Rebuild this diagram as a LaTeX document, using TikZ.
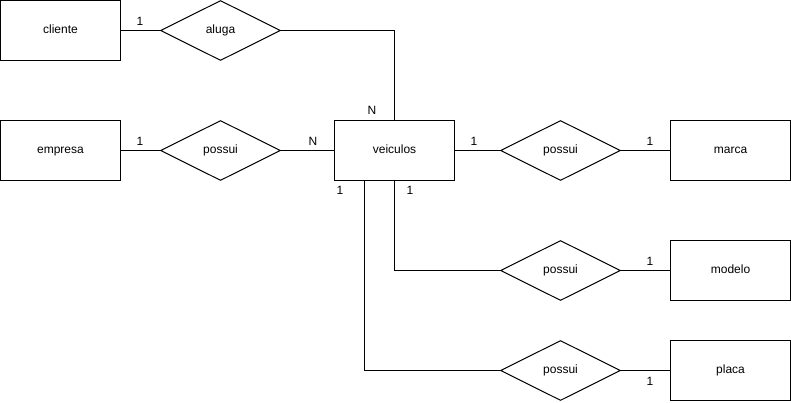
\documentclass[tikz,border=0pt]{standalone}
\usepackage{fontspec}
\setmainfont{Liberation Sans}
\usetikzlibrary{shapes.geometric}
\begin{document}
\begin{tikzpicture}[x=1pt,y=-1pt,
  every node/.style={font=\fontsize{12}{14}\selectfont},
  entity/.style={draw,line width=1pt,minimum width=120pt,minimum height=60pt,inner sep=0pt,text height=8.6pt,text depth=2.6pt},
  rel/.style={draw,diamond,line width=1pt,minimum width=120pt,minimum height=60pt,inner sep=0pt,aspect=2,text height=8.6pt,text depth=2.6pt},
  card/.style={inner sep=0pt},
  conn/.style={line width=1pt}]
\useasboundingbox (0,0) rectangle (791,402);
\node[entity] (cliente) at (60.5,30.5) {cliente};
\node[entity] (empresa) at (60.5,150.5) {empresa};
\node[entity] (veiculos) at (394.5,150.5) {veiculos};
\node[entity] (marca) at (730.5,150.5) {marca};
\node[entity] (modelo) at (730.5,270.5) {modelo};
\node[entity] (placa) at (730.5,370.5) {placa};
\node[rel] (aluga) at (220.5,30.5) {aluga};
\node[rel] (pEmp) at (220.5,150.5) {possui};
\node[rel] (pMarca) at (560.5,150.5) {possui};
\node[rel] (pModelo) at (560.5,270.5) {possui};
\node[rel] (pPlaca) at (560.5,370.5) {possui};
\coordinate (vTop) at (394.5,120.5);
\coordinate (vBotR) at (394.5,180.5);
\coordinate (vBotL) at (364.5,180.5);
\draw[conn] (cliente.east) -- (aluga.west);
\draw[conn] (aluga.east) -| (vTop);
\draw[conn] (empresa.east) -- (pEmp.west);
\draw[conn] (pEmp.east) -- (veiculos.west);
\draw[conn] (veiculos.east) -- (pMarca.west);
\draw[conn] (pMarca.east) -- (marca.west);
\draw[conn] (vBotR) |- (pModelo.west);
\draw[conn] (pModelo.east) -- (modelo.west);
\draw[conn] (vBotL) |- (pPlaca.west);
\draw[conn] (pPlaca.east) -- (placa.west);
\node[card] (c1) at (140,21) {1};
\node[card] (c2) at (372,110) {N};
\node[card] (c3) at (140,141) {1};
\node[card] (c4) at (313,141) {N};
\node[card] (c5) at (474,141) {1};
\node[card] (c6) at (650,141) {1};
\node[card] (c7) at (340,190) {1};
\node[card] (c8) at (410,190) {1};
\node[card] (c9) at (650,261) {1};
\node[card] (c10) at (650,381) {1};
\end{tikzpicture}
\end{document}
